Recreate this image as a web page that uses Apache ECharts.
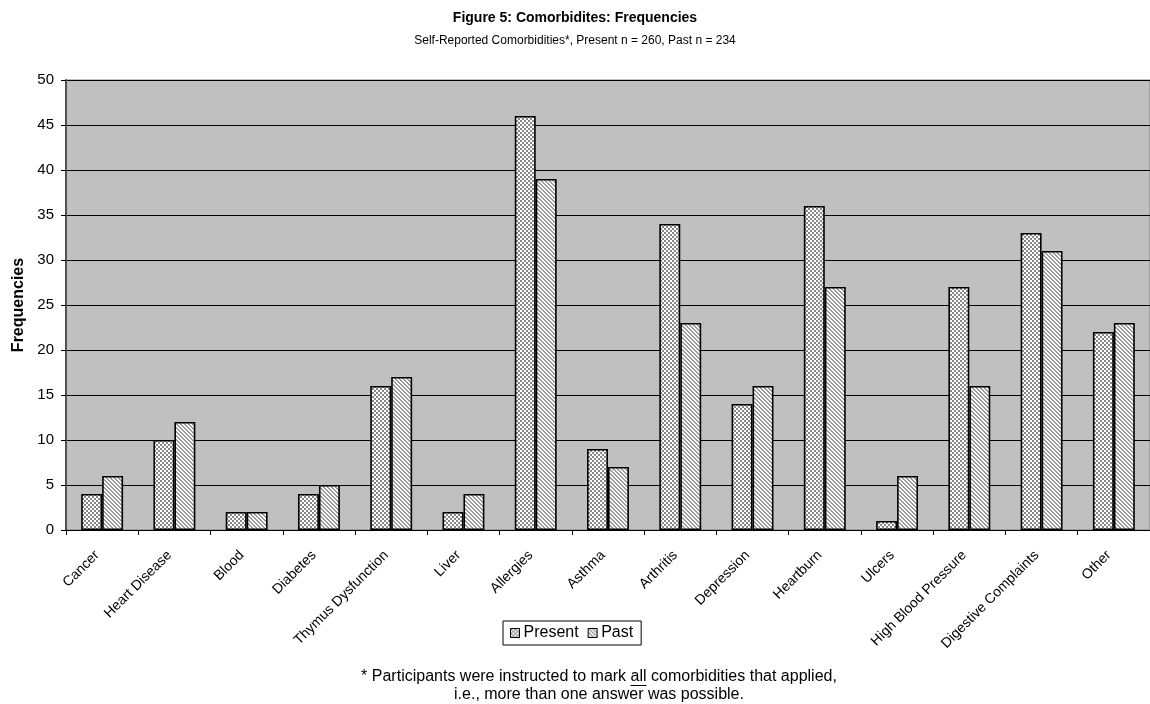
<!DOCTYPE html>
<html>
<head>
<meta charset="utf-8">
<script src="https://cdn.jsdelivr.net/npm/echarts@6/dist/echarts.min.js"></script>
<style>
  html, body { margin: 0; padding: 0; background: #fff; }
  #chart { width: 1150px; height: 704px; }
</style>
</head>
<body>
<div id="chart"></div>
<script>
// Comorbidity categories and frequencies for both groups
const categories = ['Cancer', 'Heart Disease', 'Blood', 'Diabetes', 'Thymus Dysfunction', 'Liver',
  'Allergies', 'Asthma', 'Arthritis', 'Depression', 'Heartburn', 'Ulcers',
  'High Blood Pressure', 'Digestive Complaints', 'Other'];
const presentValues = [4, 10, 2, 4, 16, 2, 46, 9, 34, 14, 36, 1, 27, 33, 22];
const pastValues = [6, 12, 2, 5, 17, 4, 39, 7, 23, 16, 27, 6, 16, 31, 23];
const yTicks = [0, 5, 10, 15, 20, 25, 30, 35, 40, 45, 50];

const FONT = 'Arial, "Liberation Sans", sans-serif';

// Checkerboard fill for "Present"
function checkerPattern() {
  const c = document.createElement('canvas');
  c.width = 4; c.height = 4;
  const ctx = c.getContext('2d');
  ctx.fillStyle = '#ffffff'; ctx.fillRect(0, 0, 4, 4);
  ctx.fillStyle = '#888888';
  ctx.fillRect(0, 0, 2, 2);
  ctx.fillRect(2, 2, 2, 2);
  return c;
}
// Diagonal "\" stripe fill for "Past"
function stripePattern() {
  const c = document.createElement('canvas');
  c.width = 4; c.height = 4;
  const ctx = c.getContext('2d');
  ctx.fillStyle = '#ffffff'; ctx.fillRect(0, 0, 4, 4);
  ctx.fillStyle = '#9a9a9a';
  for (let y = 0; y < 4; y++) {
    for (let x = 0; x < 4; x++) {
      const d = ((x - y) % 4 + 4) % 4;
      if (d === 0 || d === 1) ctx.fillRect(x, y, 1, 1);
    }
  }
  return c;
}

const presentFill = { image: checkerPattern(), repeat: 'repeat' };
const pastFill = { image: stripePattern(), repeat: 'repeat' };

const chart = echarts.init(document.getElementById('chart'), null, { renderer: 'canvas' });

// Footnote with underlined word
const noteLine1a = '* Participants were instructed to mark ';
const noteWord = 'all';
const noteLine1b = ' comorbidities that applied,';
const noteLine2 = 'i.e., more than one answer was possible.';
const noteFont = '16px ' + FONT;
const noteCenter = 599;
const mctx = document.createElement('canvas').getContext('2d');
mctx.font = noteFont;
const wA = mctx.measureText(noteLine1a).width;
const wW = mctx.measureText(noteWord).width;
const wB = mctx.measureText(noteLine1b).width;
const noteLeft = noteCenter - (wA + wW + wB) / 2;

chart.setOption({
  animation: false,
  backgroundColor: '#ffffff',
  title: {
    text: 'Figure 5: Comorbidites: Frequencies',
    subtext: 'Self-Reported Comorbidities*, Present n = 260, Past n = 234',
    left: 'center',
    top: 6,
    itemGap: 10,
    textStyle: { fontFamily: FONT, fontSize: 14, fontWeight: 'bold', color: '#000' },
    subtextStyle: { fontFamily: FONT, fontSize: 12, color: '#000' }
  },
  legend: {
    data: ['Present', 'Past'],
    left: 503,
    top: 621,
    orient: 'horizontal',
    icon: 'rect',
    itemWidth: 9,
    itemHeight: 9,
    itemGap: 9,
    padding: [4, 8, 4, 7],
    borderColor: '#000',
    borderWidth: 1,
    itemStyle: { borderColor: '#000', borderWidth: 1 },
    textStyle: { fontFamily: FONT, fontSize: 16, color: '#000', padding: [0, 0, 0, -1] }
  },
  grid: {
    left: 66,
    top: 80,
    width: 1094,
    height: 450,
    show: true,
    backgroundColor: '#c0c0c0',
    borderColor: '#808080',
    borderWidth: 1
  },
  xAxis: {
    type: 'category',
    data: categories,
    axisLine: { show: true, lineStyle: { color: '#000', width: 1 } },
    axisTick: { show: true, length: 5, lineStyle: { color: '#000' } },
    axisLabel: {
      rotate: 45,
      margin: 18,
      interval: 0,
      padding: [0, 7, 0, 0],
      fontFamily: FONT,
      fontSize: 14,
      color: '#000'
    }
  },
  yAxis: {
    type: 'value',
    min: yTicks[0],
    max: yTicks[yTicks.length - 1],
    interval: 5,
    name: 'Frequencies',
    nameLocation: 'middle',
    nameGap: 37,
    nameTextStyle: { fontFamily: FONT, fontSize: 16, fontWeight: 'bold', color: '#000' },
    axisLine: { show: true, lineStyle: { color: '#505050', width: 2 } },
    axisTick: { show: true, inside: false, length: 5, lineStyle: { color: '#000' } },
    axisLabel: { fontFamily: FONT, fontSize: 15, color: '#000', margin: 12 },
    splitLine: { show: true, lineStyle: { color: '#000', width: 1 } }
  },
  series: [
    {
      name: 'Present',
      type: 'bar',
      data: presentValues,
      barGap: '0%',
      barCategoryGap: '42%',
      itemStyle: { color: presentFill, borderColor: '#000', borderWidth: 1.6 }
    },
    {
      name: 'Past',
      type: 'bar',
      data: pastValues,
      itemStyle: { color: pastFill, borderColor: '#000', borderWidth: 1.6 }
    }
  ],
  graphic: [
    {
      type: 'text',
      left: noteLeft,
      top: 669,
      style: { text: noteLine1a + noteWord + noteLine1b, font: noteFont, fill: '#000' }
    },
    {
      type: 'line',
      shape: { x1: noteLeft + wA, y1: 685.5, x2: noteLeft + wA + wW, y2: 685.5 },
      style: { stroke: '#000', lineWidth: 1 }
    },
    {
      type: 'text',
      left: noteCenter - mctx.measureText(noteLine2).width / 2,
      top: 687,
      style: { text: noteLine2, font: noteFont, fill: '#000' }
    }
  ]
});
</script>
</body>
</html>
